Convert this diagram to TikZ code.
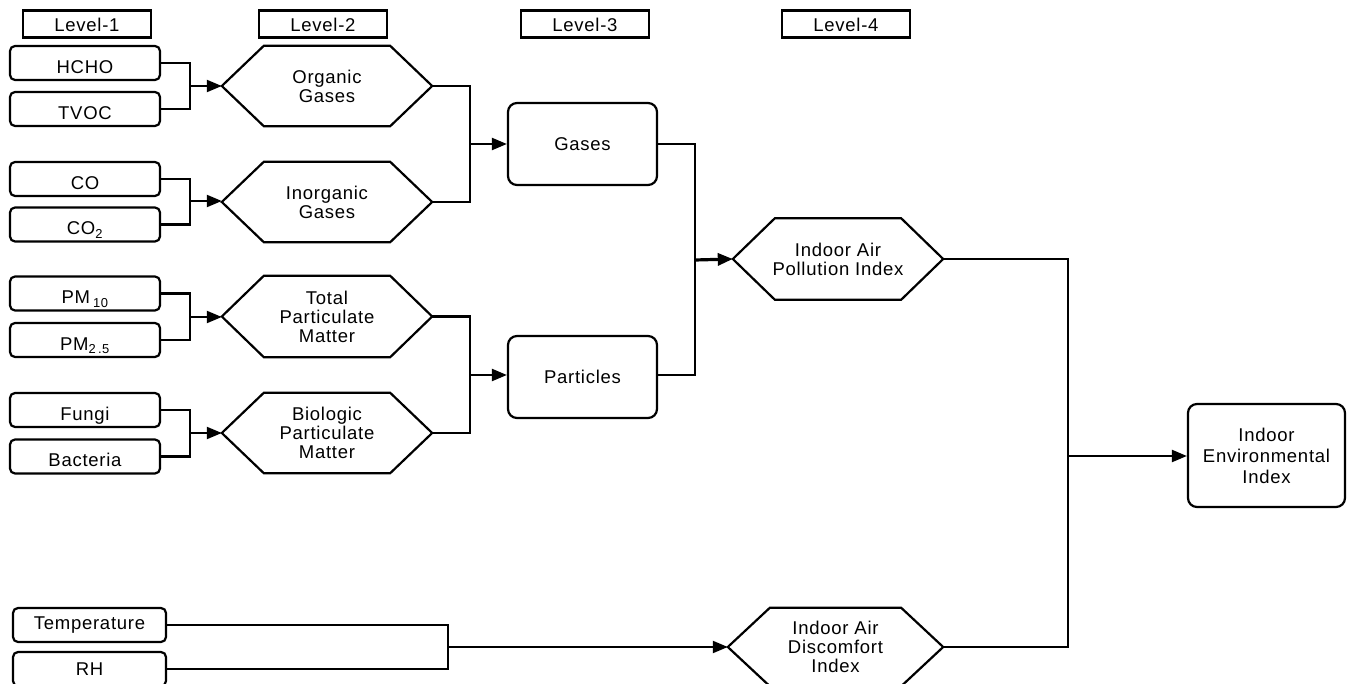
\documentclass[tikz,border=0pt]{standalone}
\usepackage{fontspec}
\setmainfont[LetterSpace=4]{Liberation Sans}
\usetikzlibrary{arrows.meta}
\begin{document}
\begin{tikzpicture}[x=1pt,y=-1pt,
  every node/.style={font=\fontsize{18.5}{19}\selectfont, align=center, inner sep=0pt},
  lvl/.style={draw, line width=2.2pt, minimum width=128pt, minimum height=27pt, text height=15pt, text depth=0pt},
  leaf/.style={draw, line width=2.2pt, rounded corners=5pt, minimum width=150pt, minimum height=34pt},
  leaflow/.style={leaf, text height=21pt, text depth=0pt},
  rbox/.style={draw, line width=2.2pt, rounded corners=9pt},
  hexa/.style={minimum width=210pt, minimum height=80pt,
    append after command={\pgfextra{\draw[line width=2.2pt, line join=miter]
      (\tikzlastnode.west) -- ([xshift=42pt]\tikzlastnode.north west)
      -- ([xshift=-42pt]\tikzlastnode.north east) -- (\tikzlastnode.east)
      -- ([xshift=-42pt]\tikzlastnode.south east)
      -- ([xshift=42pt]\tikzlastnode.south west) -- cycle;}}},
  conn/.style={line width=2.2pt},
  arr/.style={line width=2.2pt, -{Triangle[length=15pt,width=12pt]}}
]
\useasboundingbox (0,0) rectangle (1350,684);
\clip (0,0) rectangle (1350,684);

% level headers
\node[lvl] (l1) at (87,24) {Level-1};
\node[lvl] (l2) at (323,24) {Level-2};
\node[lvl] (l3) at (585,24) {Level-3};
\node[lvl] (l4) at (846,24) {Level-4};

% level-1 leaves
\node[leaflow] (hcho) at (85,63) {HCHO};
\node[leaflow] (tvoc) at (85,109) {TVOC};
\node[leaflow] (co) at (85,179) {CO};
\node[leaflow] (co2) at (85,224.5) {CO\textsubscript{2}};
\node[leaflow] (pm10) at (85,293.5) {PM\,\textsubscript{10}};
\node[leaflow] (pm25) at (85,340) {PM\textsubscript{2\,.5}};
\node[leaflow] (fungi) at (85,410) {Fungi};
\node[leaflow] (bact) at (85,456.5) {Bacteria};
\node[leaf, minimum width=153pt] (temp) at (89.5,625) {Temperature};
\node[leaf, minimum width=153pt] (rh) at (89.5,669) {RH};

% level-2 hexagons
\node[hexa] (org) at (327,86) {Organic\\Gases};
\node[hexa] (inorg) at (327,202) {Inorganic\\Gases};
\node[hexa, minimum height=81pt] (tpm) at (327,316.5) {Total\\Particulate\\Matter};
\node[hexa] (bpm) at (327,433) {Biologic\\Particulate\\Matter};

% level-3 boxes
\node[rbox, minimum width=149pt, minimum height=82pt] (gas) at (582.5,144) {Gases};
\node[rbox, minimum width=149pt, minimum height=82pt] (part) at (582.5,377) {Particles};

% level-4 hexagons
\node[hexa, minimum height=81pt] (api) at (838,259) {Indoor Air\\Pollution Index};
\node[hexa, minimum width=215pt, minimum height=78pt] (adi) at (835.5,647) {Indoor Air\\Discomfort\\Index};

% final
\node[rbox, minimum width=157pt, minimum height=103pt, font=\fontsize{18.5}{21}\selectfont] (env) at (1266.5,455.5) {Indoor\\Environmental\\Index};

% junctions
\coordinate (j1) at (190,86);
\coordinate (j2) at (190,201);
\coordinate (j3) at (190,317);
\coordinate (j4) at (190,433);
\coordinate (j5) at (470,144);
\coordinate (j6) at (470,375);
\coordinate (j7) at (695,260);
\coordinate (j8) at (1068,456);
\coordinate (j9) at (448,647);

\draw[conn] (hcho.east) -| (j1);
\draw[conn] (tvoc.east) -| (j1);
\draw[arr] (j1) -- (org.west);
\draw[conn] (co.east) -| (j2);
\draw[conn] (co2.east) -| (j2);
\draw[arr] (j2) -- (inorg.west |- j2);
\draw[conn] (pm10.east) -| (j3);
\draw[conn] (pm25.east) -| (j3);
\draw[arr] (j3) -- (tpm.west |- j3);
\draw[conn] (fungi.east) -| (j4);
\draw[conn] (bact.east) -| (j4);
\draw[arr] (j4) -- (bpm.west);

\draw[conn] (org.east) -| (j5);
\draw[conn] (inorg.east) -| (j5);
\draw[arr] (j5) -- (gas.west |- j5);
\draw[conn] (tpm.east) -| (j6);
\draw[conn] (bpm.east) -| (j6);
\draw[arr] (j6) -- (part.west |- j6);

\draw[conn] (gas.east |- j5) -| (j7);
\draw[conn] (part.east |- j6) -| (j7);
\draw[arr, line width=3.2pt] (j7) -- (api.west);

\draw[conn] (api.east) -| (j8);
\draw[conn] (adi.east) -| (j8);
\draw[arr] (j8) -- (env.west |- j8);

\draw[conn] (temp.east) -| (j9);
\draw[conn] (rh.east) -| (j9);
\draw[arr] (j9) -- (adi.west);
\end{tikzpicture}
\end{document}
